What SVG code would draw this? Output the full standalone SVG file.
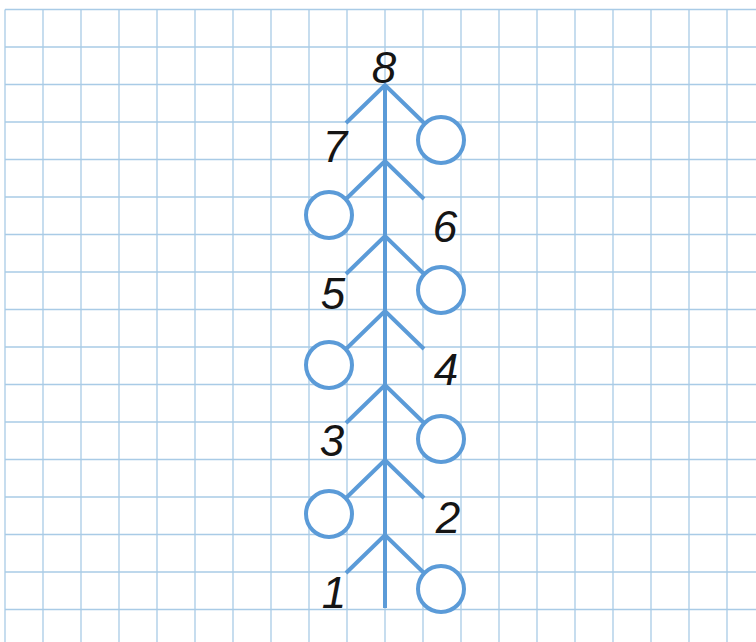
<svg xmlns="http://www.w3.org/2000/svg" width="756" height="642" viewBox="0 0 756 642">
<style>
.g{stroke:#a9cbe6;stroke-width:1.3;fill:none}
.t{stroke:#5b9bd8;stroke-width:4;fill:none;stroke-linecap:butt}
.c{stroke:#5b9bd8;stroke-width:4;fill:#fff}
.n{font-family:"Liberation Sans",Arial,sans-serif;font-style:italic;font-size:44px;fill:#151515;text-anchor:middle}
</style>
<rect width="756" height="642" fill="#fff"/>
<g id="grid" class="g">
<path d="M5 9.5V642M43 9.5V642M81 9.5V642M119 9.5V642M157 9.5V642M195 9.5V642M233 9.5V642M271 9.5V642M309 9.5V642M347 9.5V642M385 9.5V642M423 9.5V642M461 9.5V642M499 9.5V642M537 9.5V642M575 9.5V642M613 9.5V642M651 9.5V642M689 9.5V642M727 9.5V642"/>
<path d="M5 9.5H756M5 47H756M5 84.5H756M5 122H756M5 159.5H756M5 197H756M5 234.5H756M5 272H756M5 309.5H756M5 347H756M5 384.5H756M5 422H756M5 459.5H756M5 497H756M5 534.5H756M5 572H756M5 609.5H756"/>
</g>
<g id="connectors" class="t">
<line x1="385" y1="85" x2="385" y2="608"/>
<path d="M346 123L385 85L424 123"/>
<path d="M346 199L385 161L424 199"/>
<path d="M346 274L385 236L424 274"/>
<path d="M346 349L385 311L424 349"/>
<path d="M346 423L385 385L424 423"/>
<path d="M346 498L385 460L424 498"/>
<path d="M346 573L385 535L424 573"/>
</g>
<g id="circle1"><circle class="c" cx="441" cy="140" r="23"/></g>
<g id="circle2"><circle class="c" cx="329" cy="215" r="23"/></g>
<g id="circle3"><circle class="c" cx="441" cy="290" r="23"/></g>
<g id="circle4"><circle class="c" cx="329" cy="365" r="23"/></g>
<g id="circle5"><circle class="c" cx="441" cy="439" r="23"/></g>
<g id="circle6"><circle class="c" cx="329" cy="514" r="23"/></g>
<g id="circle7"><circle class="c" cx="441" cy="589" r="23"/></g>
<g id="label8"><text class="n" x="384" y="83">8</text></g>
<g id="label7"><text class="n" x="335" y="162">7</text></g>
<g id="label6"><text class="n" x="445" y="242">6</text></g>
<g id="label5"><text class="n" x="333" y="309">5</text></g>
<g id="label4"><text class="n" x="446" y="385">4</text></g>
<g id="label3"><text class="n" x="332" y="456">3</text></g>
<g id="label2"><text class="n" x="448" y="533">2</text></g>
<g id="label1"><text class="n" x="334" y="608">1</text></g>
</svg>
